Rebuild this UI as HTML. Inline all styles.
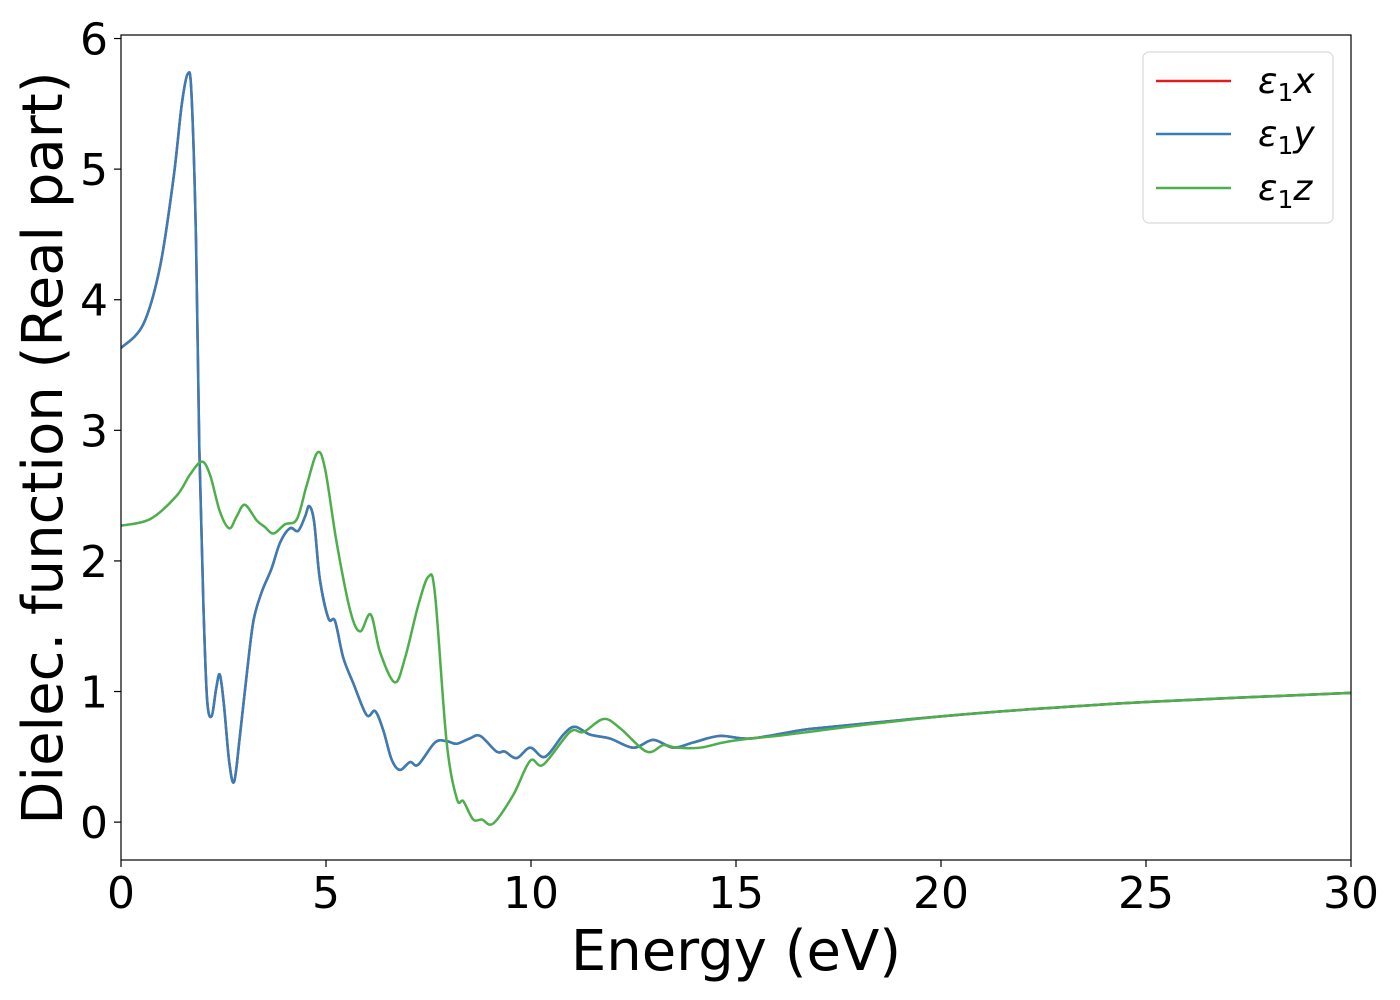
<!DOCTYPE html>
<html><head><meta charset="utf-8">
<style>
html,body{margin:0;padding:0;background:#fff;}
svg{display:block;font-family:"DejaVu Sans","Liberation Sans",sans-serif;}
</style></head>
<body>
<svg id="chart" width="1400" height="1000" viewBox="0 0 1400 1000" xmlns="http://www.w3.org/2000/svg">
<rect x="0" y="0" width="1400" height="1000" fill="#fff"/>
<g id="series"></g>
<rect x="121" y="35" width="1230" height="825" fill="none" stroke="#000" stroke-width="1.2"/>
<g id="xticks"></g>
<g id="yticks"></g>
<text x="736" y="970" font-size="56" text-anchor="middle">Energy (eV)</text>
<text transform="translate(62,448) rotate(-90)" font-size="56" text-anchor="middle">Dielec. function (Real part)</text>
<g>
<rect x="1143" y="52" width="190" height="171" rx="6" fill="#fff" stroke="#d6d6d6" stroke-width="1.2" opacity="0.9"/>
<line x1="1156" y1="81" x2="1231" y2="81" stroke="#e41a1c" stroke-width="2.5"/>
<text x="1258" y="93" font-size="36"><tspan font-style="italic">ε</tspan><tspan font-size="25" dy="8">1</tspan><tspan font-style="italic" dy="-8">x</tspan></text>
<line x1="1156" y1="134" x2="1231" y2="134" stroke="#377eb8" stroke-width="2.5"/>
<text x="1258" y="146" font-size="36"><tspan font-style="italic">ε</tspan><tspan font-size="25" dy="8">1</tspan><tspan font-style="italic" dy="-8">y</tspan></text>
<line x1="1156" y1="188" x2="1231" y2="188" stroke="#4daf4a" stroke-width="2.5"/>
<text x="1258" y="200" font-size="36"><tspan font-style="italic">ε</tspan><tspan font-size="25" dy="8">1</tspan><tspan font-style="italic" dy="-8">z</tspan></text>
</g>
</svg>
<script>
const xTickLabels = ["0","5","10","15","20","25","30"];
const yTickLabels = ["0","1","2","3","4","5","6"];
const xyEnergy = [0,0.54,0.95,1.28,1.48,1.63,1.72,1.83,1.91,2.01,2.10,2.21,2.32,2.41,2.51,2.64,2.76,2.90,3.07,3.23,3.43,3.67,3.88,4.12,4.32,4.49,4.59,4.71,4.85,5.06,5.22,5.42,5.67,5.99,6.20,6.40,6.60,6.80,7.05,7.25,7.66,7.94,8.19,8.50,8.76,9.16,9.36,9.65,9.98,10.34,10.79,11.07,11.44,11.93,12.50,12.98,13.47,13.96,14.61,15.34,16.5,17,18,20,22,25,30];
const eps1x = [3.63,3.81,4.25,4.93,5.49,5.73,5.57,4.45,2.86,1.66,0.94,0.81,1.02,1.13,0.90,0.46,0.31,0.66,1.14,1.54,1.76,1.94,2.14,2.25,2.23,2.34,2.42,2.30,1.86,1.56,1.54,1.26,1.06,0.82,0.85,0.70,0.48,0.40,0.46,0.44,0.61,0.62,0.60,0.64,0.66,0.54,0.54,0.49,0.57,0.50,0.67,0.73,0.67,0.64,0.57,0.63,0.57,0.61,0.66,0.64,0.70,0.72,0.75,0.81,0.86,0.92,0.99];
const eps1y = [3.63,3.81,4.25,4.93,5.49,5.73,5.57,4.45,2.86,1.66,0.94,0.81,1.02,1.13,0.90,0.46,0.31,0.66,1.14,1.54,1.76,1.94,2.14,2.25,2.23,2.34,2.42,2.30,1.86,1.56,1.54,1.26,1.06,0.82,0.85,0.70,0.48,0.40,0.46,0.44,0.61,0.62,0.60,0.64,0.66,0.54,0.54,0.49,0.57,0.50,0.67,0.73,0.67,0.64,0.57,0.63,0.57,0.61,0.66,0.64,0.70,0.72,0.75,0.81,0.86,0.92,0.99];
const zEnergy = [0,0.71,1.36,1.68,1.97,2.17,2.41,2.64,2.82,3.02,3.31,3.51,3.72,4.0,4.29,4.53,4.79,4.98,5.26,5.59,5.83,6.09,6.32,6.68,6.93,7.25,7.50,7.66,7.94,8.19,8.35,8.59,8.80,9.08,9.57,9.98,10.30,10.95,11.28,11.77,12.17,12.82,13.23,13.55,14.12,14.69,15.34,16,17,18,20,22,25,30];
const eps1z = [2.27,2.32,2.50,2.66,2.76,2.66,2.38,2.25,2.34,2.43,2.31,2.26,2.21,2.28,2.32,2.58,2.83,2.70,2.14,1.62,1.46,1.59,1.30,1.07,1.26,1.66,1.88,1.74,0.62,0.18,0.16,0.02,0.02,-0.01,0.21,0.47,0.44,0.69,0.69,0.79,0.72,0.54,0.59,0.57,0.57,0.61,0.64,0.66,0.70,0.74,0.81,0.86,0.92,0.99];

const NS = "http://www.w3.org/2000/svg";
const X0 = 121, X1 = 1351, YTOP = 35, YBOT = 860;
const xMin = 0, xMax = 30, yMin = -0.29, yMax = 6.027;
function sx(v){ return X0 + (v - xMin) / (xMax - xMin) * (X1 - X0); }
function sy(v){ return YBOT - (v - yMin) / (yMax - yMin) * (YBOT - YTOP); }

function smoothPath(xs, ys){
  const p = xs.map((x,i)=>[sx(x), sy(ys[i])]);
  let d = "M" + p[0][0].toFixed(2) + "," + p[0][1].toFixed(2);
  for (let i = 0; i < p.length - 1; i++){
    const p0 = p[Math.max(0,i-1)], p1 = p[i], p2 = p[i+1], p3 = p[Math.min(p.length-1,i+2)];
    const c1x = p1[0] + (p2[0]-p0[0])/6, c1y = p1[1] + (p2[1]-p0[1])/6;
    const c2x = p2[0] - (p3[0]-p1[0])/6, c2y = p2[1] - (p3[1]-p1[1])/6;
    d += " C" + c1x.toFixed(2) + "," + c1y.toFixed(2) + " " + c2x.toFixed(2) + "," + c2y.toFixed(2) + " " + p2[0].toFixed(2) + "," + p2[1].toFixed(2);
  }
  return d;
}

const g = document.getElementById("series");
const defs = document.createElementNS(NS, "clipPath");
defs.setAttribute("id", "plotclip");
const cr = document.createElementNS(NS, "rect");
cr.setAttribute("x", X0); cr.setAttribute("y", YTOP); cr.setAttribute("width", X1-X0); cr.setAttribute("height", YBOT-YTOP);
defs.appendChild(cr);
document.getElementById("chart").appendChild(defs);
g.setAttribute("clip-path", "url(#plotclip)");

function addLine(xs, ys, color, name){
  const path = document.createElementNS(NS, "path");
  path.setAttribute("d", smoothPath(xs, ys));
  path.setAttribute("fill", "none");
  path.setAttribute("stroke", color);
  path.setAttribute("stroke-width", "2.5");
  path.setAttribute("stroke-linejoin", "round");
  
  
  g.appendChild(path);
}
addLine(xyEnergy, eps1x, "#e41a1c", "line-eps1-x");
addLine(xyEnergy, eps1y, "#377eb8", "line-eps1-y");
addLine(zEnergy, eps1z, "#4daf4a", "line-eps1-z");

const xt = document.getElementById("xticks");
xTickLabels.forEach(function(lbl){
  const v = parseFloat(lbl), x = sx(v);
  const t = document.createElementNS(NS, "line");
  t.setAttribute("x1", x); t.setAttribute("x2", x); t.setAttribute("y1", YBOT); t.setAttribute("y2", YBOT + 7);
  t.setAttribute("stroke", "#000"); t.setAttribute("stroke-width", "1.2");
  
  
  xt.appendChild(t);
  const tx = document.createElementNS(NS, "text");
  tx.setAttribute("x", x); tx.setAttribute("y", 908);
  tx.setAttribute("font-size", "44"); tx.setAttribute("text-anchor", "middle");
  tx.textContent = lbl;
  
  
  xt.appendChild(tx);
});
const yt = document.getElementById("yticks");
yTickLabels.forEach(function(lbl){
  const v = parseFloat(lbl), y = sy(v);
  const t = document.createElementNS(NS, "line");
  t.setAttribute("x1", X0 - 7); t.setAttribute("x2", X0); t.setAttribute("y1", y); t.setAttribute("y2", y);
  t.setAttribute("stroke", "#000"); t.setAttribute("stroke-width", "1.2");
  
  
  yt.appendChild(t);
  const tx = document.createElementNS(NS, "text");
  tx.setAttribute("x", 108); tx.setAttribute("y", y + 16);
  tx.setAttribute("font-size", "44"); tx.setAttribute("text-anchor", "end");
  tx.textContent = lbl;
  
  
  yt.appendChild(tx);
});
</script>
</body></html>
